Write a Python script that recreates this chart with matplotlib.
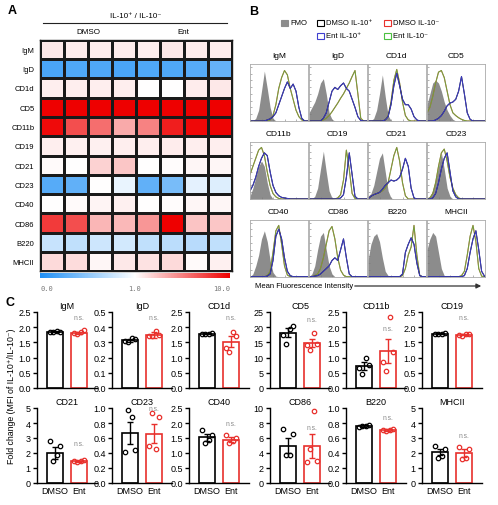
import numpy as np
import matplotlib
matplotlib.use("Agg")
import matplotlib.pyplot as plt
from matplotlib.colors import LinearSegmentedColormap, TwoSlopeNorm
from matplotlib.cm import ScalarMappable
from matplotlib.patches import Rectangle, FancyArrowPatch

plt.rcParams["font.family"] = ["Liberation Sans", "DejaVu Sans"]

# ---------------------------------------------------------------------------
# Data
# ---------------------------------------------------------------------------

# A: heatmap, fold change IL-10+/IL-10- (4 DMSO columns, 4 Ent columns)
heat_rows = ["IgM", "IgD", "CD1d", "CD5", "CD11b", "CD19",
             "CD21", "CD23", "CD40", "CD86", "B220", "MHCII"]
heat_vals = [
    [1.8, 1.7, 1.7, 1.7, 1.6, 1.8, 1.7, 1.7],
    [0.2, 0.22, 0.22, 0.2, 0.22, 0.22, 0.25, 0.32],
    [1.6, 1.6, 1.6, 1.6, 1.0, 1.0, 1.7, 1.8],
    [12, 12, 12, 12, 12, 11, 11, 11],
    [9.6, 7.2, 6.1, 4.0, 5.4, 8.9, 9.7, 9.8],
    [1.6, 1.5, 1.5, 1.6, 1.6, 1.7, 1.6, 1.6],
    [1.2, 1.0, 2.6, 3.0, 1.05, 1.1, 1.3, 1.3],
    [0.25, 0.3, 1.0, 0.9, 0.3, 0.4, 0.88, 0.85],
    [1.05, 1.15, 1.4, 1.5, 1.05, 1.1, 1.3, 1.3],
    [7.9, 7.2, 3.6, 3.5, 4.7, 10.0, 3.1, 3.0],
    [0.75, 0.72, 0.78, 0.8, 0.72, 0.7, 0.68, 0.72],
    [2.3, 2.2, 1.3, 1.8, 2.0, 2.3, 1.2, 1.5],
]

# B: histogram outlines on a 0..1 fluorescence grid (21 bins)
hist_markers = ["IgM", "IgD", "CD1d", "CD5", "CD11b", "CD19",
                "CD21", "CD23", "CD40", "CD86", "B220", "MHCII"]
hist_fmo = {
    "IgM":   [0, 0, .05, .2, .55, .92, .6, .25, .05, 0, 0, 0, 0, 0, 0, 0, 0, 0, 0, 0, 0],
    "IgD":   [.15, .25, .35, .5, .7, .78, .5, .15, .03, 0, 0, 0, 0, 0, 0, 0, 0, 0, 0, 0, 0],
    "CD1d":  [0, 0, .05, .2, .5, .85, .45, .1, .01, 0, 0, 0, 0, 0, 0, 0, 0, 0, 0, 0, 0],
    "CD5":   [.3, .5, .7, .75, .7, .55, .35, .2, .1, .03, 0, 0, 0, 0, 0, 0, 0, 0, 0, 0, 0],
    "CD11b": [.05, .2, .4, .6, .7, .6, .3, .08, 0, 0, 0, 0, 0, 0, 0, 0, 0, 0, 0, 0, 0],
    "CD19":  [0, 0, .05, .2, .55, .88, .5, .15, .02, 0, 0, 0, 0, 0, 0, 0, 0, 0, 0, 0, 0],
    "CD21":  [.05, .1, .25, .5, .75, .85, .5, .15, .02, 0, 0, 0, 0, 0, 0, 0, 0, 0, 0, 0, 0],
    "CD23":  [0, .05, .15, .35, .6, .85, .55, .2, .05, 0, 0, 0, 0, 0, 0, 0, 0, 0, 0, 0, 0],
    "CD40":  [0, .05, .2, .4, .7, .85, .65, .3, .08, .01, 0, 0, 0, 0, 0, 0, 0, 0, 0, 0, 0],
    "CD86":  [0, .05, .2, .5, .75, .82, .5, .2, .05, 0, 0, 0, 0, 0, 0, 0, 0, 0, 0, 0, 0],
    "B220":  [.3, .6, .75, .8, .65, .35, .1, .02, 0, 0, 0, 0, 0, 0, 0, 0, 0, 0, 0, 0, 0],
    "MHCII": [.5, .7, .82, .75, .45, .15, .02, 0, 0, 0, 0, 0, 0, 0, 0, 0, 0, 0, 0, 0, 0],
}
# IL-10- curves (DMSO and Ent overlap)
hist_neg = {
    "IgM":   [0, 0, 0, 0, 0, 0, 0, .02, .1, .3, .6, .8, .93, .85, .6, .4, .2, .08, .02, 0, 0],
    "IgD":   [0, 0, 0, 0, 0, .02, .05, .1, .17, .25, .33, .42, .5, .6, .7, .82, .93, .5, .05, 0, 0],
    "CD1d":  [0, 0, 0, 0, 0, 0, .02, .1, .35, .75, .95, .7, .35, .1, .02, 0, 0, 0, 0, 0, 0],
    "CD5":   [.15, .25, .45, .7, .9, .93, .8, .55, .3, .15, .1, .06, .03, .01, 0, 0, 0, 0, 0, 0, 0],
    "CD11b": [.45, .6, .75, .9, .95, .8, .5, .25, .1, .04, .01, 0, 0, 0, 0, 0, 0, 0, 0, 0, 0],
    "CD19":  [0, 0, 0, 0, 0, 0, 0, 0, 0, 0, .02, .08, .35, .9, .55, .1, .01, 0, 0, 0, 0],
    "CD21":  [0, .05, .08, .1, .12, .15, .2, .3, .55, .8, .95, .7, .3, .06, 0, 0, 0, 0, 0, 0, 0],
    "CD23":  [0, .02, .1, .3, .6, .85, .92, .7, .4, .2, .08, .02, 0, 0, 0, 0, 0, 0, 0, 0, 0],
    "CD40":  [0, 0, 0, 0, 0, 0, .02, .1, .45, .85, .95, .6, .2, .03, 0, 0, 0, 0, 0, 0, 0],
    "CD86":  [0, 0, .02, .05, .15, .35, .6, .85, .93, .7, .35, .12, .03, 0, 0, 0, 0, 0, 0, 0, 0],
    "B220":  [0, 0, 0, 0, 0, 0, 0, 0, 0, 0, 0, 0, .02, .15, .4, .55, .95, .4, .02, 0, 0],
    "MHCII": [0, 0, 0, 0, 0, 0, 0, 0, 0, 0, 0, 0, .02, .1, .4, .75, .95, .65, .15, .01, 0],
}
# IL-10+ curves (DMSO and Ent overlap)
hist_pos = {
    "IgM":   [0, 0, 0, 0, 0, 0, .02, .04, .08, .15, .3, .45, .6, .72, .6, .68, .55, .25, .05, 0, 0],
    "IgD":   [0, 0, 0, 0, 0, .05, .15, .35, .55, .62, .58, .65, .7, .6, .55, .4, .25, .08, .01, 0, 0],
    "CD1d":  [0, 0, 0, 0, 0, 0, .02, .08, .3, .65, .88, .65, .4, .3, .3, .22, .08, .02, 0, 0, 0],
    "CD5":   [0, 0, 0, .02, .05, .1, .18, .28, .33, .35, .4, .55, .82, .5, .15, .03, 0, 0, 0, 0, 0],
    "CD11b": [.15, .25, .4, .6, .75, .85, .8, .5, .25, .12, .06, .03, .02, .01, 0, 0, 0, 0, 0, 0, 0],
    "CD19":  [0, 0, 0, 0, 0, 0, 0, 0, 0, 0, 0, .02, .08, .4, .85, .45, .05, 0, 0, 0, 0],
    "CD21":  [0, .05, .08, .1, .12, .18, .25, .3, .35, .33, .35, .4, .55, .75, .6, .2, .02, 0, 0, 0, 0],
    "CD23":  [0, 0, .02, .1, .3, .55, .75, .85, .5, .15, .04, 0, 0, 0, 0, 0, 0, 0, 0, 0, 0],
    "CD40":  [0, 0, 0, 0, 0, 0, .01, .05, .3, .75, .88, .7, .35, .1, .02, 0, 0, 0, 0, 0, 0],
    "CD86":  [0, 0, .01, .02, .05, .1, .15, .2, .3, .35, .3, .5, .7, .35, .05, 0, 0, 0, 0, 0, 0],
    "B220":  [0, 0, 0, 0, 0, 0, 0, 0, 0, 0, 0, 0, .05, .45, .6, .72, .6, .25, .02, 0, 0],
    "MHCII": [0, 0, 0, 0, 0, 0, 0, 0, 0, 0, 0, 0, 0, .02, .15, .45, .7, .85, .5, .1, .01],
}

# C: fold change (MFI of IL-10+/IL-10-), mean +/- SEM and individual mice
c_markers = ["IgM", "IgD", "CD1d", "CD5", "CD11b", "CD19",
             "CD21", "CD23", "CD40", "CD86", "B220", "MHCII"]
c_ymax = [2.5, 0.5, 2.5, 25, 2.5, 2.5, 5, 1.0, 2.5, 10, 1.0, 5]
dmso_mean = [1.85, 0.315, 1.78, 18.2, 0.72, 1.79, 2.0, 0.67, 1.52, 5.0, 0.76, 2.07]
dmso_sem = [0.02, 0.01, 0.02, 1.4, 0.12, 0.02, 0.4, 0.15, 0.12, 1.0, 0.01, 0.2]
ent_mean = [1.82, 0.35, 1.52, 14.7, 1.22, 1.75, 1.45, 0.66, 1.45, 4.95, 0.71, 2.0]
ent_sem = [0.03, 0.02, 0.18, 1.3, 0.4, 0.02, 0.05, 0.13, 0.08, 1.6, 0.01, 0.25]
dmso_pts = [
    [1.85, 1.84, 1.86, 1.85],
    [0.31, 0.30, 0.33, 0.32],
    [1.77, 1.76, 1.77, 1.80],
    [17.5, 14.5, 19.5, 20.3],
    [0.65, 0.45, 1.0, 0.75],
    [1.79, 1.77, 1.78, 1.82],
    [2.8, 1.5, 1.9, 2.5],
    [0.42, 0.97, 0.88, 0.44],
    [1.78, 1.35, 1.45, 1.6],
    [7.2, 3.7, 3.8, 6.5],
    [0.75, 0.76, 0.76, 0.78],
    [2.45, 1.7, 1.8, 2.3],
]
ent_pts = [
    [1.80, 1.78, 1.84, 1.90],
    [0.345, 0.34, 0.375, 0.35],
    [1.30, 1.20, 1.85, 1.70],
    [14.0, 12.5, 18.0, 14.5],
    [0.85, 0.55, 2.32, 1.2],
    [1.75, 1.72, 1.77, 1.78],
    [1.45, 1.4, 1.5, 1.55],
    [0.5, 0.93, 0.46, 0.88],
    [1.6, 1.35, 1.4, 1.5],
    [2.8, 4.5, 9.6, 2.9],
    [0.71, 0.70, 0.71, 0.72],
    [2.4, 1.6, 1.7, 2.3],
]
ns_y = [2.2, 0.44, 2.2, 21.5, 1.85, 2.2, 2.4, 0.95, 1.85, 6.9, 0.83, 2.95]

# ---------------------------------------------------------------------------
# Layout helpers (pixel coordinates of a 498x506 canvas)
# ---------------------------------------------------------------------------
W, H = 498, 506
fig = plt.figure(figsize=(W / 100, H / 100), dpi=100)


def px_axes(x0, y0, x1, y1):
    return fig.add_axes([x0 / W, 1 - y1 / H, (x1 - x0) / W, (y1 - y0) / H])


def fx(x):
    return x / W


def fy(y):
    return 1 - y / H


BLUE = "#4040d0"
GREEN = "#4cc040"
RED = "#e8302c"
FMO_GREY = "#8c8c8c"

# ---------------------------------------------------------------------------
# A: heatmap
# ---------------------------------------------------------------------------
fig.text(fx(8), fy(11), "A", fontsize=9, fontweight="bold", va="center")
fig.text(fx(136), fy(17), "IL-10\u207a / IL-10\u207b", fontsize=5.8, ha="center", va="center")
fig.add_artist(plt.Line2D([fx(43), fx(227)], [fy(24), fy(24)], color="#222", lw=0.8))
fig.text(fx(88), fy(33), "DMSO", fontsize=5.8, ha="center", va="center")
fig.text(fx(183), fy(33), "Ent", fontsize=5.8, ha="center", va="center")

cmap = LinearSegmentedColormap.from_list("bwr_fc", ["#1e8ff5", "#ffffff", "#ee0000"])
norm = TwoSlopeNorm(vmin=0.0, vcenter=1.0, vmax=10.0)

ax = px_axes(40, 40.7, 232, 272.3)
ax.pcolormesh(np.array(heat_vals), cmap=cmap, norm=norm,
              edgecolors="#1a1a1a", linewidth=0.9)
ax.set_xlim(0, 8)
ax.set_ylim(len(heat_rows), 0)
ax.set_xticks([])
ax.set_yticks(np.arange(len(heat_rows)) + 0.5)
ax.set_yticklabels(heat_rows, fontsize=5.5)
ax.tick_params(axis="y", length=0, pad=4)
for s in ax.spines.values():
    s.set_linewidth(1.0)
    s.set_color("#1a1a1a")

cax = px_axes(40, 273.7, 230, 279.3)
cb = fig.colorbar(ScalarMappable(norm=norm, cmap=cmap), cax=cax, orientation="horizontal")
cb.outline.set_visible(False)
cax.set_xticks([])
for x, lab, ha in [(40, "0.0", "left"), (135, "1.0", "center"), (230, "10.0", "right")]:
    fig.text(fx(x), fy(289), lab, fontsize=5, ha=ha, va="center",
             color="#777", family="DejaVu Sans Mono")

# ---------------------------------------------------------------------------
# B: histograms
# ---------------------------------------------------------------------------
fig.text(fx(249), fy(12), "B", fontsize=9, fontweight="bold", va="center")

legend_items = [
    (281, 24, "FMO", FMO_GREY, True),
    (317, 24, "DMSO IL-10\u207a", "black", False),
    (384, 24, "DMSO IL-10\u207b", RED, False),
    (317, 37, "Ent IL-10\u207a", BLUE, False),
    (384, 37, "Ent IL-10\u207b", GREEN, False),
]
for x, y, lab, col, filled in legend_items:
    fig.add_artist(Rectangle((fx(x), fy(y + 3)), 6.5 / W, 6.5 / H, transform=fig.transFigure,
                             facecolor=col if filled else "white", edgecolor=col, lw=0.8))
    fig.text(fx(x + 9), fy(y), lab, fontsize=5.5, va="center")

hist_x = np.linspace(0, 1, 21)
col_x = [250, 309, 368, 427]
row_y = [(65, 122), (143, 200), (221, 277.7)]
for i, name in enumerate(hist_markers):
    r, c = divmod(i, 4)
    ax = px_axes(col_x[c], row_y[r][0], col_x[c] + 57.5, row_y[r][1])
    ax.fill_between(hist_x, hist_fmo[name], color=FMO_GREY, lw=0)
    ax.plot(hist_x, hist_neg[name], color=RED, lw=0.7)
    ax.plot(hist_x, hist_neg[name], color=GREEN, lw=0.8, alpha=0.75)
    ax.plot(hist_x, hist_pos[name], color="black", lw=0.7)
    ax.plot(hist_x, hist_pos[name], color=BLUE, lw=0.8, alpha=0.9)
    ax.set_xlim(0, 1)
    ax.set_ylim(0, 1.05)
    ax.set_xticks(np.linspace(0, 1, 6))
    ax.set_yticks(np.linspace(0, 1, 9))
    ax.tick_params(labelleft=False, labelbottom=False, length=1.5, width=0.4,
                   color="#777", direction="in")
    for s in ax.spines.values():
        s.set_linewidth(0.6)
        s.set_color("#aaa")
    ax.set_title(name, fontsize=6, pad=5)

fig.text(fx(255), fy(287), "Mean Fluorescence Intensity", fontsize=5.5, va="center")
fig.add_artist(FancyArrowPatch((fx(352), fy(287)), (fx(484), fy(287)),
                               transform=fig.transFigure, arrowstyle="-|>",
                               mutation_scale=7, lw=0.9, color="#333"))

# ---------------------------------------------------------------------------
# C: bar charts
# ---------------------------------------------------------------------------
fig.text(fx(5), fy(303), "C", fontsize=9, fontweight="bold", va="center")
fig.text(fx(12), fy(396), "Fold change (MFI of IL-10\u207a/IL-10\u207b)",
         fontsize=6.3, rotation=90, ha="center", va="center")

bar_left = [37, 112, 189, 270, 346, 422]
bar_rows = [(313, 389), (409, 484)]
offsets = np.array([-0.21, -0.07, 0.07, 0.21])
for i, name in enumerate(c_markers):
    r, c = divmod(i, 6)
    ax = px_axes(bar_left[c], bar_rows[r][0], bar_left[c] + 60, bar_rows[r][1])
    for xpos, mean, sem, pts, col in [(0, dmso_mean[i], dmso_sem[i], dmso_pts[i], "black"),
                                      (1, ent_mean[i], ent_sem[i], ent_pts[i], RED)]:
        ax.bar(xpos, mean, width=0.68, facecolor="white", edgecolor=col, lw=1.2, zorder=1)
        ax.errorbar(xpos, mean, yerr=sem, color=col, capsize=2.5, elinewidth=1.0,
                    capthick=1.0, zorder=2)
        ax.plot(xpos + offsets, pts, "o", ms=3.2, mfc="none", mec=col, mew=0.9,
                zorder=3, clip_on=False)
    ax.text(1, ns_y[i], "n.s.", fontsize=4.8, color="#888", ha="center", va="bottom")

    ymax = c_ymax[i]
    ticks = np.linspace(0, ymax, 6)
    ax.set_ylim(0, ymax)
    ax.set_yticks(ticks)
    fmt = "%.1f" if ymax / 5 < 1 else "%d"
    ax.set_yticklabels([fmt % t for t in ticks], fontsize=6.5)
    ax.set_xlim(-0.75, 1.75)
    if r == 1:
        ax.set_xticks([0, 1])
        ax.set_xticklabels(["DMSO", "Ent"], fontsize=6.5)
        ax.tick_params(axis="x", length=0, pad=2)
    else:
        ax.set_xticks([])
    ax.tick_params(axis="y", length=3, width=1.0, pad=1.5)
    ax.spines["top"].set_visible(False)
    ax.spines["right"].set_visible(False)
    ax.spines["left"].set_linewidth(1.0)
    ax.spines["bottom"].set_linewidth(1.0)
    ax.set_title(name, fontsize=6.5, pad=3)

fig.savefig("out.png", dpi=100)
